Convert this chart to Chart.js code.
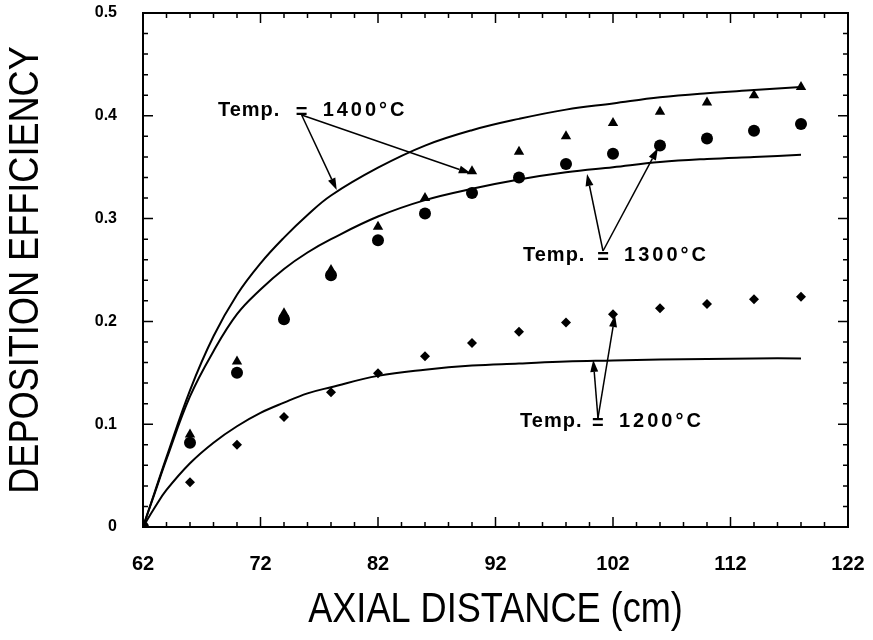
<!DOCTYPE html>
<html lang="en">
<head>
<meta charset="UTF-8">
<title>Deposition efficiency vs axial distance</title>
<script src="https://cdn.jsdelivr.net/npm/chart.js"></script>
<style>
  html, body { margin: 0; padding: 0; background: #fff; }
  .chart-container { width: 873px; height: 640px; }
</style>
</head>
<body>
<div class="chart-container"><canvas id="depChart" width="873" height="640"></canvas></div>
<script>
// measured points (x every 4 cm)
const axialX = [62, 66, 70, 74, 78, 82, 86, 90, 94, 98, 102, 106, 110, 114, 118];
const meas1400 = [0, 0.09, 0.161, 0.208, 0.25, 0.292, 0.32, 0.346, 0.365, 0.38, 0.393, 0.404, 0.413, 0.42, 0.428];
const meas1300 = [0, 0.082, 0.15, 0.202, 0.245, 0.279, 0.305, 0.325, 0.34, 0.353, 0.363, 0.371, 0.378, 0.3855, 0.392];
const meas1200 = [0, 0.0435, 0.08, 0.107, 0.131, 0.1495, 0.166, 0.179, 0.19, 0.199, 0.207, 0.2127, 0.217, 0.2215, 0.224];

// model curves
const curveX = [62, 63, 64, 66, 68, 70, 72, 74, 76, 78, 82, 86, 90, 94, 98, 102, 106, 110, 114, 118];
const fit1400 = [0, 0.034, 0.068, 0.133, 0.1855, 0.226, 0.2565, 0.2815, 0.3035, 0.3225, 0.3495, 0.371, 0.386, 0.397, 0.406, 0.412, 0.418, 0.422, 0.425, 0.428];
const fit1300 = [0, 0.033, 0.066, 0.127, 0.171, 0.207, 0.231, 0.251, 0.267, 0.28, 0.302, 0.318, 0.329, 0.338, 0.345, 0.35, 0.355, 0.358, 0.36, 0.362];
const fit1200 = [0, 0.019, 0.036, 0.062, 0.082, 0.098, 0.111, 0.121, 0.13, 0.136, 0.147, 0.153, 0.157, 0.159, 0.161, 0.162, 0.163, 0.1635, 0.164, 0.164];

const xTickLabels = [62, 72, 82, 92, 102, 112, 122];
const yTickLabels = [0, 0.1, 0.2, 0.3, 0.4, 0.5];

// "Temp. = ..." labels: text start x, text middle y, "=" x, arrow tips (data units)
const noteTemps = ['1400°C', '1300°C', '1200°C'];
const noteStart = [[68.38, 0.405], [94.34, 0.2646], [94.09, 0.1031]];
const noteEq = [[75.5, 0.4008], [101.15, 0.2685], [100.72, 0.1060]];
const noteTips = [
  [[78.49, 0.3278], [89.9, 0.344]],
  [[99.79, 0.3434], [105.83, 0.3687]],
  [[100.32, 0.1625], [102.17, 0.2062]]
];

function pts(xs, ys) {
  return xs.map((v, i) => ({ x: v, y: ys[i] }));
}

function fitLine(ys) {
  return {
    data: pts(curveX, ys),
    showLine: true,
    borderColor: '#000',
    borderWidth: 2,
    pointRadius: 0,
    tension: 0.4
  };
}

function marks(ys, style, r) {
  return {
    data: pts(axialX, ys),
    showLine: false,
    pointStyle: style,
    pointRadius: r,
    backgroundColor: '#000',
    borderColor: '#000',
    borderWidth: 0
  };
}

// frame with inward ticks on all four sides
const frameTicks = {
  id: 'frameTicks',
  afterDraw(chart) {
    const { ctx, chartArea: a, scales: { x, y } } = chart;
    ctx.save();
    ctx.strokeStyle = '#000';
    ctx.lineWidth = 2;
    ctx.strokeRect(a.left, a.top, a.right - a.left, a.bottom - a.top);
    ctx.lineWidth = 1.5;
    ctx.beginPath();
    for (let v = 62; v <= 122; v += 2) {
      const px = x.getPixelForValue(v);
      const len = (v - 62) % 10 === 0 ? 10 : 5;
      ctx.moveTo(px, a.bottom); ctx.lineTo(px, a.bottom - len);
      ctx.moveTo(px, a.top); ctx.lineTo(px, a.top + len);
    }
    for (let i = 0; i <= 25; i++) {
      const py = y.getPixelForValue(i * 0.02);
      const len = i % 5 === 0 ? 10 : 5;
      ctx.moveTo(a.left, py); ctx.lineTo(a.left + len, py);
      ctx.moveTo(a.right, py); ctx.lineTo(a.right - len, py);
    }
    ctx.stroke();
    ctx.restore();
  }
};

function arrow(ctx, x0, y0, x1, y1) {
  const ang = Math.atan2(y1 - y0, x1 - x0);
  const hl = 12, hw = 4;
  ctx.beginPath();
  ctx.moveTo(x0, y0);
  ctx.lineTo(x1 - hl * Math.cos(ang), y1 - hl * Math.sin(ang));
  ctx.stroke();
  ctx.beginPath();
  ctx.moveTo(x1, y1);
  ctx.lineTo(x1 - hl * Math.cos(ang) + hw * Math.sin(ang), y1 - hl * Math.sin(ang) - hw * Math.cos(ang));
  ctx.lineTo(x1 - hl * Math.cos(ang) - hw * Math.sin(ang), y1 - hl * Math.sin(ang) + hw * Math.cos(ang));
  ctx.closePath();
  ctx.fill();
}

const notes = {
  id: 'notes',
  afterDraw(chart) {
    const { ctx, scales: { x, y } } = chart;
    ctx.save();
    ctx.fillStyle = '#000';
    ctx.strokeStyle = '#000';
    ctx.lineWidth = 1.5;
    ctx.textBaseline = 'middle';
    ctx.font = 'bold 20px "Liberation Sans", Arial, sans-serif';
    noteTemps.forEach((t, i) => {
      const sx = x.getPixelForValue(noteStart[i][0]);
      const sy = y.getPixelForValue(noteStart[i][1]);
      const ex = x.getPixelForValue(noteEq[i][0]);
      const ey = y.getPixelForValue(noteEq[i][1]);
      ctx.textAlign = 'left';
      ctx.letterSpacing = '1px';
      ctx.fillText('Temp.', sx, sy);
      ctx.letterSpacing = '0px';
      ctx.textAlign = 'center';
      ctx.fillText('=', ex, sy + 2);
      ctx.textAlign = 'left';
      ctx.letterSpacing = '3px';
      ctx.fillText(t, ex + 21, sy);
      ctx.letterSpacing = '0px';
      noteTips[i].forEach(tp => {
        arrow(ctx, ex, ey, x.getPixelForValue(tp[0]), y.getPixelForValue(tp[1]));
      });
    });
    ctx.restore();
  }
};

// axis titles, squeezed to look like the narrow face of the original
const axisTitles = {
  id: 'axisTitles',
  afterDraw(chart) {
    const { ctx, chartArea: a } = chart;
    ctx.save();
    ctx.fillStyle = '#000';
    ctx.font = '42px "Liberation Sans", Arial, sans-serif';
    ctx.textAlign = 'center';
    ctx.textBaseline = 'middle';
    ctx.save();
    ctx.translate((a.left + a.right) / 2, 610);
    ctx.scale(0.86, 1);
    ctx.fillText('AXIAL DISTANCE (cm)', 0, 0);
    ctx.restore();
    ctx.translate(26, (a.top + a.bottom) / 2);
    ctx.rotate(-Math.PI / 2);
    ctx.scale(0.86, 1);
    ctx.fillText('DEPOSITION EFFICIENCY', 0, 0);
    ctx.restore();
  }
};

const ctx = document.getElementById('depChart').getContext('2d');
new Chart(ctx, {
  type: 'scatter',
  data: {
    datasets: [
      fitLine(fit1400),
      fitLine(fit1300),
      fitLine(fit1200),
      marks(meas1300, 'circle', 6),
      marks(meas1400, 'triangle', 6),
      marks(meas1200, 'rectRot', 5)
    ]
  },
  options: {
    responsive: false,
    animation: false,
    devicePixelRatio: 1,
    layout: { padding: { top: 13, right: 25, left: 0, bottom: 0 } },
    plugins: {
      legend: { display: false },
      tooltip: { enabled: false }
    },
    scales: {
      x: {
        type: 'linear',
        min: 62,
        max: 122,
        afterBuildTicks: s => { s.ticks = xTickLabels.map(v => ({ value: v })); },
        afterFit: s => { s.height = 113; s.paddingLeft = 0; s.paddingRight = 0; },
        grid: { display: false, drawTicks: false },
        border: { display: false },
        ticks: {
          color: '#000',
          padding: 25,
          maxRotation: 0,
          font: { family: '"Liberation Sans", Arial, sans-serif', size: 20, weight: 'bold' }
        }
      },
      y: {
        min: 0,
        max: 0.5,
        afterBuildTicks: s => { s.ticks = yTickLabels.map(v => ({ value: v })); },
        afterFit: s => { s.width = 143; s.paddingTop = 0; s.paddingBottom = 0; },
        grid: { display: false, drawTicks: false },
        border: { display: false },
        ticks: {
          color: '#000',
          padding: 26,
          font: { family: '"Liberation Sans", Arial, sans-serif', size: 16, weight: 'bold' },
          callback: v => (v === 0 ? '0' : v.toFixed(1))
        }
      }
    }
  },
  plugins: [frameTicks, notes, axisTitles]
});
</script>
</body>
</html>
